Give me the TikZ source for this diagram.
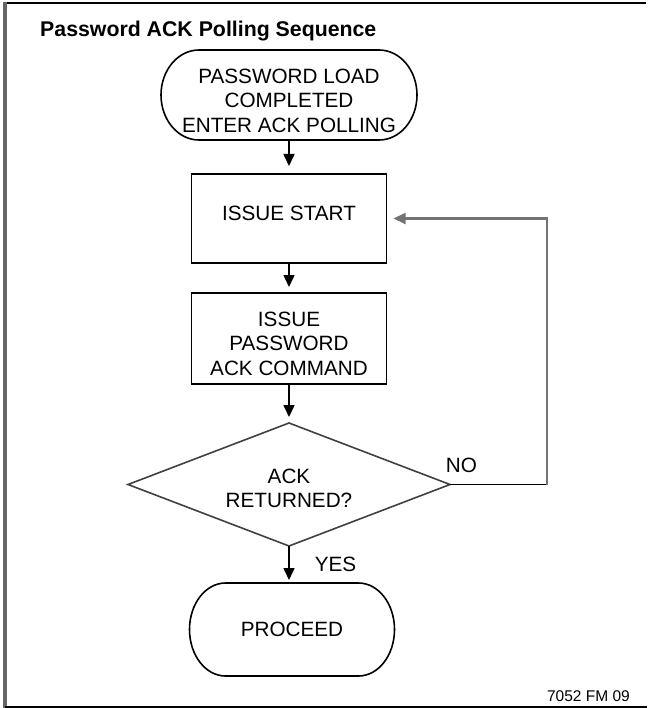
\documentclass[tikz,border=0pt]{standalone}
\usepackage{fontspec}
\setmainfont{Liberation Sans}
\usetikzlibrary{positioning, shapes.geometric, arrows.meta}

\newcommand\bodyfont{\fontsize{20.7}{24.5}\selectfont}
% struts that move a node's text down (taller first line) or up (deeper last line)
\newcommand\sinktext[1]{\rule{0pt}{#1}}
\newcommand\risetext[1]{\rule[-#1]{0pt}{#1}}
% outline of a terminal node: straight top and bottom, half-ellipse ends
\newcommand\drawterm[3]{%
  \draw[line] ([xshift=#2]#1.north west) -- ([xshift=-#2]#1.north east)
    arc[start angle=90, end angle=-90, x radius=#2, y radius=#3]
    -- ([xshift=#2]#1.south west)
    arc[start angle=270, end angle=90, x radius=#2, y radius=#3] -- cycle;}

\tikzset{
  line/.style={line width=1.6pt},
  flow/.style={line, -{Triangle[width=11pt, length=12pt]}},
  term/.style={inner sep=0pt, outer sep=0pt, align=center, font=\bodyfont},
  procbox/.style={draw, line, inner sep=0pt, outer sep=0pt, minimum width=195pt,
    align=center, font=\bodyfont},
  decide/.style={draw=black!75, line, diamond, aspect=2.6, inner sep=0pt, outer sep=0pt,
    minimum width=322pt, minimum height=123pt, align=center, font=\bodyfont},
  lbl/.style={inner sep=0pt, font=\bodyfont}
}

\begin{document}
\begin{tikzpicture}[x=1pt, y=-1pt]
    \useasboundingbox (0,0) rectangle (647,708);
    % frame
    \draw[line width=2pt] (5,3.5) -- (646,3.5);
    \draw[line width=4pt, black!60] (5,2.5) -- (5,708);
    \draw[line width=2pt] (5,707) -- (647,707);

    \node[anchor=base west, inner sep=0pt, font=\fontsize{21.3}{25}\selectfont\bfseries]
        (title) at (40,37) {Password ACK Polling Sequence};

    \node[term, minimum width=256pt, minimum height=90pt] (load) at (289,95)
        {\sinktext{26pt}PASSWORD LOAD\\COMPLETED\\ENTER ACK POLLING};
    \node[procbox, minimum height=89pt, below=34pt of load]  (start)   {ISSUE START\risetext{10pt}};
    \node[procbox, minimum height=91pt, below=30pt of start] (command)
        {\sinktext{25pt}ISSUE\\PASSWORD\\ACK COMMAND};
    \node[decide, below=39pt of command]                     (ack)     {\sinktext{22pt}ACK\\RETURNED?};
    \node[term, minimum width=205pt, minimum height=93pt, below=37pt of ack, xshift=3pt]
        (proceed) {PROCEED};
    \drawterm{load}{38pt}{45pt}
    \drawterm{proceed}{36pt}{46.5pt}

    \coordinate (turn) at (547,484);

    \draw[flow, shorten >=8pt] (load) -- (start);
    \draw[flow, shorten >=6pt] (start) -- (command);
    \draw[flow, shorten >=6pt] (command) -- (ack);
    \draw[flow, shorten >=3pt] (ack.south) -- node[lbl, right=25pt] {YES} (ack.south |- proceed.north);
    \draw[line] (ack.east) node[lbl, above right=11pt and 0pt, xshift=-5pt] {NO} -- (ack.east -| turn);
    \draw[flow, draw=black!55, line width=2.2pt, shorten >=7pt] (ack.east -| turn) |- (start.east);

    \node[anchor=base east, inner sep=0pt, font=\fontsize{15.5}{18}\selectfont]
        (figno) at (630,701) {7052 FM 09};
\end{tikzpicture}
\end{document}
